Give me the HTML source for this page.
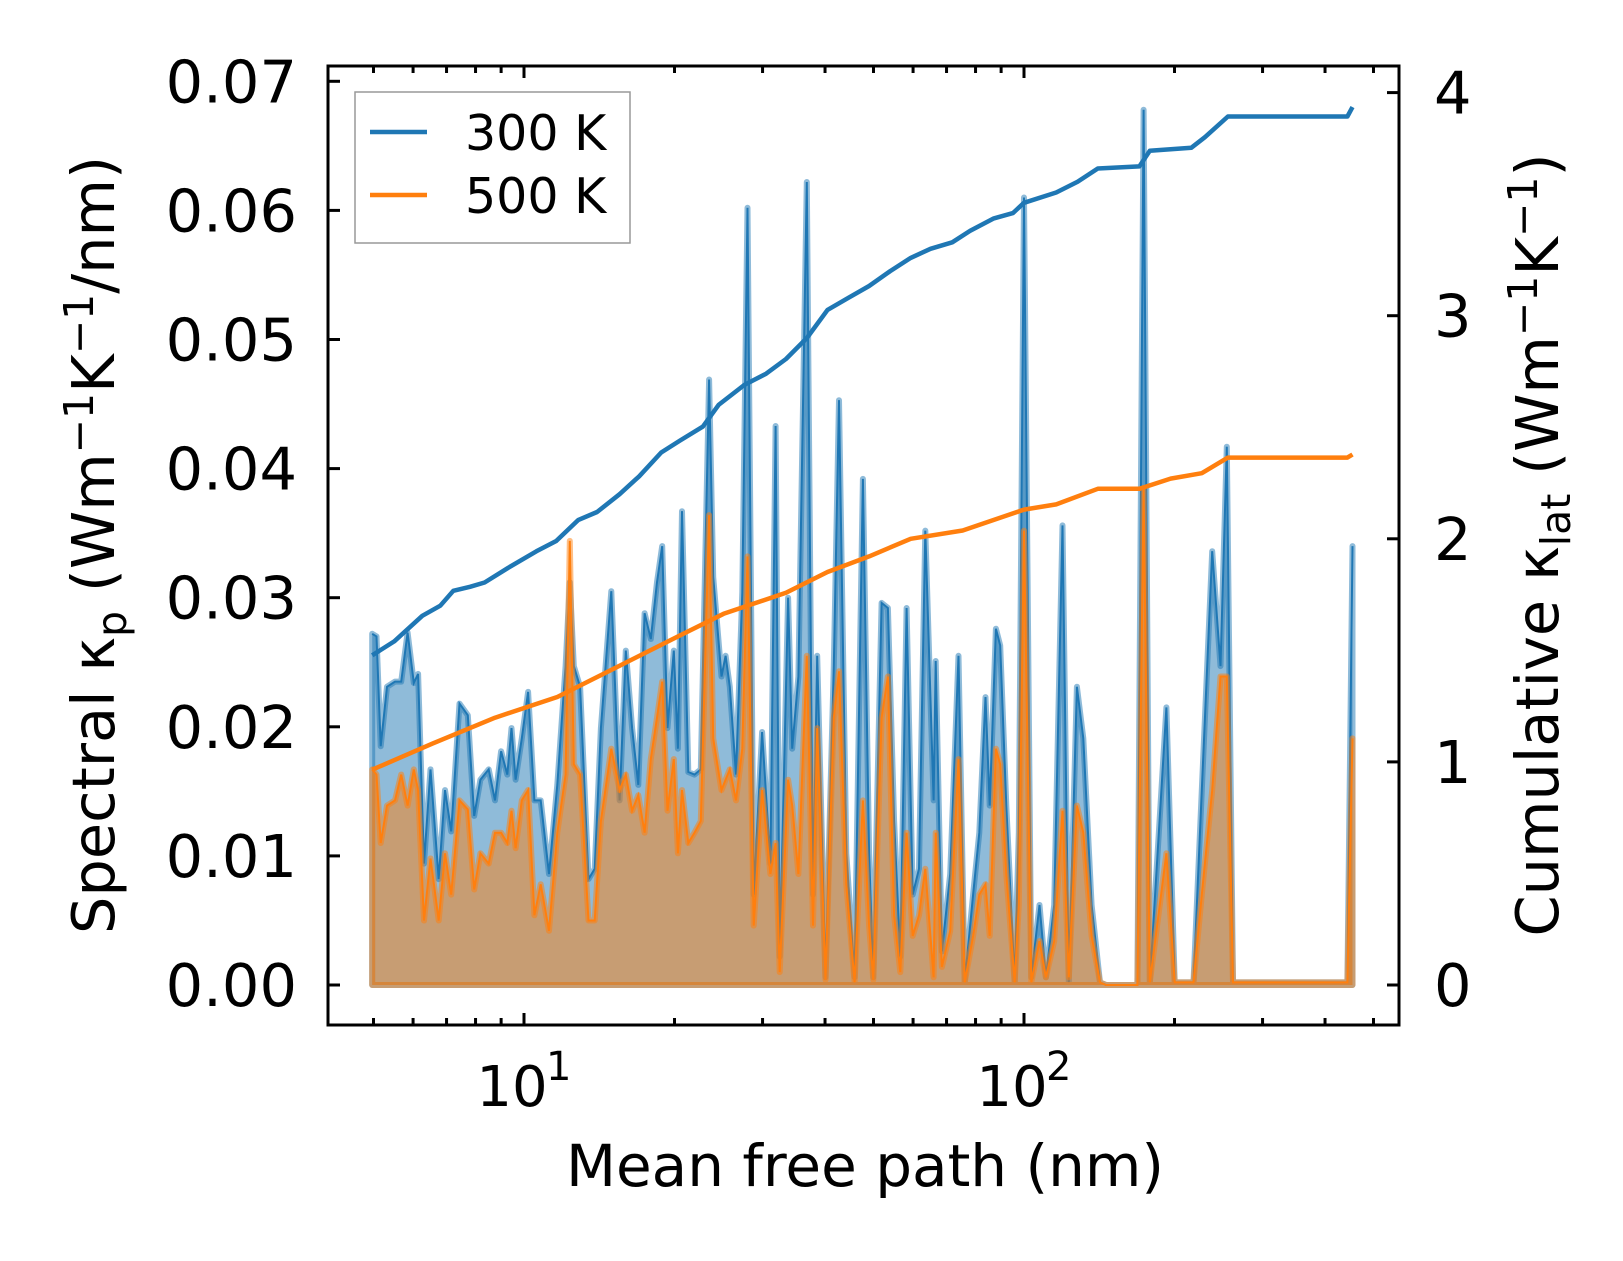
<!DOCTYPE html>
<html><head><meta charset="utf-8">
<style>
html,body{margin:0;padding:0;background:#fff;}
svg{display:block;font-family:"DejaVu Sans","Liberation Sans",sans-serif;}
</style></head>
<body>
<svg id="chart" width="1623" height="1261" viewBox="0 0 1623 1261" xmlns="http://www.w3.org/2000/svg">
<g id="plot"></g>
</svg>
<script>
const mfp=[4.97,5.07,5.17,5.32,5.52,5.68,5.85,6.02,6.14,6.31,6.50,6.75,6.95,7.15,7.43,7.72,7.95,8.18,8.50,8.75,9.00,9.26,9.44,9.62,9.90,10.19,10.49,10.80,11.22,11.66,12.11,12.35,12.58,12.95,13.46,13.85,14.25,14.95,15.53,15.98,16.45,16.93,17.43,17.93,18.45,18.90,19.36,19.93,20.31,20.70,21.31,21.93,22.57,23.45,23.90,24.83,25.31,25.80,26.55,27.33,27.99,28.80,29.93,31.10,31.85,32.47,33.74,34.39,35.39,36.78,37.84,38.58,40.08,41.65,42.66,44.11,45.83,47.63,49.01,49.96,50.92,51.91,53.42,54.97,56.57,58.23,59.91,61.66,63.46,65.94,66.58,68.52,71.19,73.96,76.12,79.09,81.40,83.77,85.40,87.88,89.60,92.19,95.79,97.63,100,103.4,107.4,110.6,114.9,119.4,122.9,127.6,131.4,136.5,141.9,146.0,168.6,173.5,178.5,192.7,200.2,218.3,226.8,237.9,247.2,254.4,261.8,443.4,453.9];
const kp300=[0.0272,0.0270,0.0185,0.0231,0.0235,0.0235,0.0273,0.0234,0.0241,0.0094,0.0167,0.0082,0.0151,0.0119,0.0218,0.0209,0.0131,0.0159,0.0167,0.0143,0.0181,0.0163,0.0199,0.0159,0.0191,0.0227,0.0143,0.0143,0.0086,0.0155,0.0247,0.0312,0.0247,0.0231,0.0082,0.0090,0.0199,0.0305,0.0143,0.0259,0.0199,0.0155,0.0288,0.0268,0.0312,0.0340,0.0199,0.0259,0.0183,0.0367,0.0165,0.0163,0.0167,0.0469,0.0316,0.0239,0.0255,0.0231,0.0163,0.0304,0.0602,0.0070,0.0196,0.0094,0.0433,0.0022,0.0300,0.0183,0.0239,0.0622,0.0070,0.0255,0.0006,0.0247,0.0453,0.0102,0.0006,0.0392,0.0102,0.0006,0.0151,0.0296,0.0292,0.0127,0.0022,0.0292,0.0070,0.0090,0.0352,0.0143,0.0251,0.0026,0.0086,0.0255,0.0002,0.0070,0.0118,0.0223,0.0139,0.0276,0.0263,0.0139,0.0002,0.0118,0.0610,0.0006,0.0062,0.0006,0.0062,0.0356,0.0002,0.0231,0.0191,0.0062,0.0002,0,0,0.0678,0.0002,0.0215,0.0002,0.0002,0.0151,0.0336,0.0247,0.0417,0.0002,0.0002,0.0340];
const kp500=[0.0167,0.0163,0.0110,0.0139,0.0143,0.0163,0.0139,0.0167,0.0151,0.0050,0.0098,0.0050,0.0102,0.0070,0.0143,0.0136,0.0074,0.0102,0.0094,0.0118,0.0118,0.0110,0.0135,0.0106,0.0143,0.0151,0.0054,0.0078,0.0042,0.0118,0.0163,0.0344,0.0171,0.0163,0.0050,0.0050,0.0127,0.0183,0.0151,0.0163,0.0135,0.0147,0.0118,0.0175,0.0207,0.0235,0.0135,0.0175,0.0102,0.0151,0.0110,0.0118,0.0127,0.0364,0.0191,0.0151,0.0159,0.0167,0.0143,0.0183,0.0332,0.0046,0.0151,0.0086,0.0110,0.0010,0.0159,0.0139,0.0086,0.0255,0.0046,0.0199,0.0004,0.0207,0.0243,0.0078,0.0002,0.0143,0.0046,0.0004,0.0106,0.0207,0.0239,0.0054,0.0010,0.0118,0.0038,0.0054,0.0090,0.0006,0.0118,0.0014,0.0042,0.0175,0.0002,0.0038,0.0070,0.0078,0.0038,0.0183,0.0171,0.0086,0.0002,0.0062,0.0352,0.0002,0.0034,0.0006,0.0034,0.0135,0.0006,0.0139,0.0118,0.0038,0.0002,0,0,0.0384,0.0002,0.0102,0.0002,0.0002,0.0070,0.0151,0.0239,0.0239,0.0002,0.0002,0.0191];
const cumX300=[4.97,5.5,6.26,6.8,7.22,7.8,8.34,9.3,10.59,11.6,12.83,14.0,15.53,17.0,18.81,20.5,22.79,24.5,27.59,30.5,33.42,36.8,40.46,44.5,49.01,54.0,59.35,65.0,71.87,78.0,87.03,95.0,100,116.0,128.0,140.5,170.1,178.5,216.2,230.0,255.7,443.4,453.9];
const cum300=[1.478,1.540,1.655,1.700,1.767,1.785,1.804,1.870,1.944,1.990,2.084,2.120,2.200,2.280,2.387,2.440,2.503,2.600,2.690,2.740,2.806,2.900,3.026,3.080,3.133,3.200,3.259,3.300,3.329,3.380,3.436,3.460,3.506,3.552,3.600,3.660,3.669,3.739,3.753,3.800,3.893,3.893,3.935];
const cumX500=[4.97,6.56,8.75,11.66,15.53,19.73,25.07,33.42,40.46,49.01,59.35,75.4,100,116.0,140.5,170.1,196.4,226.8,255.7,443.4,453.9];
const cum500=[0.965,1.082,1.198,1.291,1.431,1.548,1.664,1.758,1.851,1.921,2.000,2.037,2.131,2.154,2.224,2.224,2.270,2.294,2.364,2.364,2.378];
const leftTicks=[0,0.01,0.02,0.03,0.04,0.05,0.06,0.07];
const leftTickLabels=["0.00","0.01","0.02","0.03","0.04","0.05","0.06","0.07"];
const rightTicks=[0,1,2,3,4];
const xMajor=[10,100];

const L=328,R=1399,T=66,B=1025;
const xs=v=>524+(Math.log10(v)-1)*500;
const yl=v=>985-v*12910;
const yr=v=>985-v*223.1;
const NS="http://www.w3.org/2000/svg";
const g=document.getElementById('plot');
function mk(tag,attrs,parent){const e=document.createElementNS(NS,tag);for(const k in attrs)e.setAttribute(k,attrs[k]);(parent||g).appendChild(e);return e;}

function spectral(vals,color,name){
  let d=`M${xs(mfp[0])},${yl(0)}`;
  mfp.forEach((m,i)=>{d+=` L${xs(m).toFixed(1)},${yl(vals[i]).toFixed(1)}`;});
  d+=` L${xs(mfp[mfp.length-1])},${yl(0)} Z`;
  const f=mk('path',{d:d,fill:color,'fill-opacity':0.5,stroke:color,'stroke-opacity':0.5,'stroke-width':6,'stroke-linejoin':'round'});
  
  
  let d2='';
  mfp.forEach((m,i)=>{d2+=(i?' L':'M')+xs(m).toFixed(1)+','+yl(vals[i]).toFixed(1);});
  const l=mk('path',{d:d2,fill:'none',stroke:color,'stroke-width':2});
  
  
}
spectral(kp300,'#1f77b4','spectral-300k');
spectral(kp500,'#ff7f0e','spectral-500k');

function cum(xv,yv,color,name){
  let d='';
  xv.forEach((m,i)=>{d+=(i?' L':'M')+xs(m).toFixed(1)+','+yr(yv[i]).toFixed(1);});
  const l=mk('path',{d:d,fill:'none',stroke:color,'stroke-width':4.5,'stroke-linejoin':'round'});
  
  
}
cum(cumX300,cum300,'#1f77b4','cumulative-300k');
cum(cumX500,cum500,'#ff7f0e','cumulative-500k');

const fr=mk('rect',{x:L,y:T,width:R-L,height:B-T,fill:'none',stroke:'#000','stroke-width':3});



leftTicks.forEach((v,i)=>{
  const y=yl(v);
  mk('line',{x1:L,x2:L+12,y1:y,y2:y,stroke:'#000','stroke-width':3});
  const t=mk('text',{x:297,y:y+21,'text-anchor':'end','font-size':59});
  t.textContent=leftTickLabels[i];
  
  
});
rightTicks.forEach(v=>{
  const y=yr(v);
  mk('line',{x1:R-12,x2:R,y1:y,y2:y,stroke:'#000','stroke-width':3});
  const t=mk('text',{x:1434,y:y+21,'font-size':59});
  t.textContent=String(v);
  
  
});
for(let dec=1;dec<=100;dec*=10){
  for(let k=1;k<10;k++){
    const v=k*dec; const x=xs(v);
    if(x<L||x>R) continue;
    const len=(k===1)?12:7;
    mk('line',{x1:x,x2:x,y1:B,y2:B-len,stroke:'#000','stroke-width':3});
    mk('line',{x1:x,x2:x,y1:T,y2:T+len,stroke:'#000','stroke-width':3});
  }
}
xMajor.forEach(v=>{
  const t=mk('text',{x:xs(v)-12,y:1106,'text-anchor':'middle','font-size':56});
  t.textContent='10';
  
  
  const s=mk('text',{x:xs(v)+22,y:1080,'font-size':40});
  s.textContent=String(Math.round(Math.log10(v)));
  
  
});
</script>
<svg style="position:absolute;left:0;top:0" width="1623" height="1261" xmlns="http://www.w3.org/2000/svg" font-family="DejaVu Sans, Liberation Sans, sans-serif">
<g>
<rect x="355" y="92" width="275" height="151" fill="#fff" fill-opacity="0.8" stroke="#999" stroke-width="1.5"/>
<line x1="370" x2="427" y1="132" y2="132" stroke="#1f77b4" stroke-width="4.5"/>
<text x="465" y="150" font-size="49">300 K</text>
<line x1="370" x2="427" y1="195" y2="195" stroke="#ff7f0e" stroke-width="4.5"/>
<text x="465" y="213" font-size="49">500 K</text>
</g>
<text x="865" y="1186" text-anchor="middle" font-size="58">Mean free path (nm)</text>
<text transform="translate(114,545) rotate(-90)" text-anchor="middle" font-size="59">Spectral κ<tspan font-size="41" dy="12">p</tspan><tspan dy="-12"> (Wm</tspan><tspan font-size="41" dy="-21">−1</tspan><tspan dy="21">K</tspan><tspan font-size="41" dy="-21">−1</tspan><tspan dy="21">/nm)</tspan></text>
<text transform="translate(1558,545) rotate(-90)" text-anchor="middle" font-size="59">Cumulative κ<tspan font-size="41" dy="12">lat</tspan><tspan dy="-12"> (Wm</tspan><tspan font-size="41" dy="-21">−1</tspan><tspan dy="21">K</tspan><tspan font-size="41" dy="-21">−1</tspan><tspan dy="21">)</tspan></text>
</svg>
</body></html>
